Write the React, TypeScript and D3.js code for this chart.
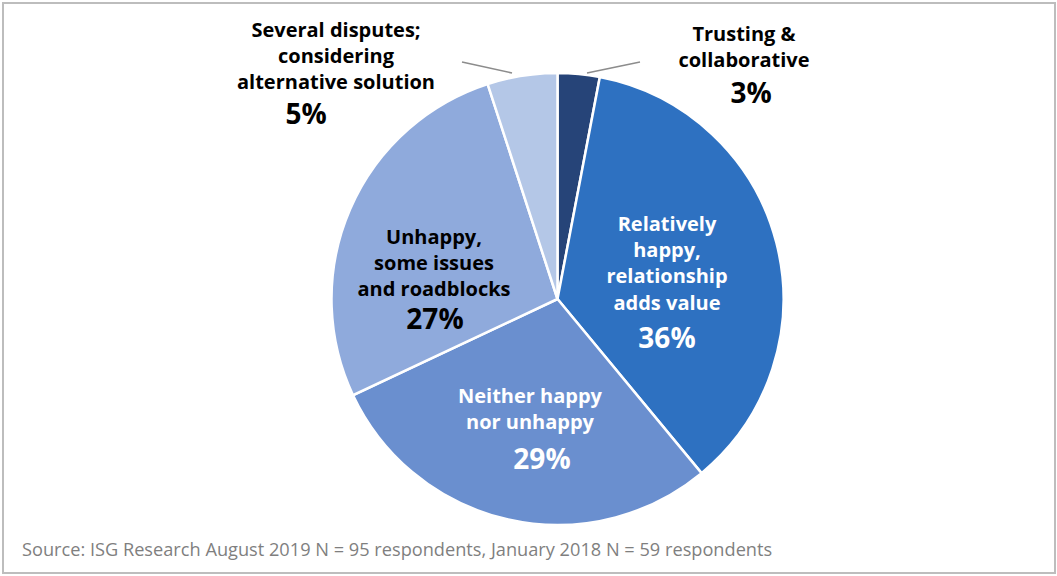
import React from "react";
import * as d3 from "d3";

const categories = [
  "Trusting & collaborative",
  "Relatively happy, relationship adds value",
  "Neither happy nor unhappy",
  "Unhappy, some issues and roadblocks",
  "Several disputes; considering alternative solution",
];
const values = [3, 36, 29, 27, 5];
const labelLines = [
  ["Trusting &", "collaborative"],
  ["Relatively", "happy,", "relationship", "adds value"],
  ["Neither happy", "nor unhappy"],
  ["Unhappy,", "some issues", "and roadblocks"],
  ["Several disputes;", "considering", "alternative solution"],
];
const colors = ["#264478", "#2E71C1", "#6A8FCF", "#8FAADC", "#B4C7E7"];
const source =
  "Source: ISG Research August 2019 N = 95 respondents, January 2018 N = 59 respondents";

const W = 1057;
const H = 576;
const cx = 557.5;
const cy = 299;
const R = 226;
const LINE = 26.2;

const labelLayout = [
  { x: 744, y: 41, px: 751, py: 103, fill: "#000", line: [[587, 73], [640, 62]] },
  { x: 667, y: 231, px: 667, py: 348, fill: "#fff" },
  { x: 530, y: 403, px: 542, py: 469, fill: "#fff" },
  { x: 434, y: 244, px: 435, py: 329, fill: "#000" },
  { x: 336, y: 37, px: 306, py: 124, fill: "#000", line: [[512, 73], [462, 62]] },
];

export default function App() {
  const pie = d3
    .pie<number>()
    .sort(null)
    .value((d) => d);
  const arcs = pie(values);
  const arc = d3.arc<d3.PieArcDatum<number>>().innerRadius(0).outerRadius(R);
  const font = "'Open Sans', sans-serif";
  return (
    <div style={{ position: "absolute", left: 0, top: 0 }}>
      <svg width={W} height={H} style={{ display: "block" }}>
        <rect x={0} y={0} width={W} height={H} fill="#fff" />
        <rect x={3} y={3} width={1052} height={570} fill="none" stroke="#bdbdbd" strokeWidth={2} />
        <g transform={`translate(${cx},${cy})`}>
          {arcs.map((a, i) => (
            <path key={categories[i]} d={arc(a) || ""} fill={colors[i]} stroke="#fff" strokeWidth={2.5} />
          ))}
        </g>
        {labelLayout.map((l, i) =>
          l.line ? (
            <line
              key={"ln" + i}
              x1={l.line[0][0]}
              y1={l.line[0][1]}
              x2={l.line[1][0]}
              y2={l.line[1][1]}
              stroke="#8c8c8c"
              strokeWidth={1.5}
            />
          ) : null
        )}
        {labelLayout.map((l, i) => {
          const lines = labelLines[i];
          return (
            <g key={"lb" + i} fontFamily={font} fontWeight={700} fill={l.fill} textAnchor="middle">
              {lines.map((t, j) => (
                <text key={j} x={l.x} y={l.y + j * LINE} fontSize={20}>
                  {t}
                </text>
              ))}
              <text x={l.px} y={l.py} fontSize={28}>
                {values[i]}%
              </text>
            </g>
          );
        })}
        <text x={22} y={556} fontFamily="'Open Sans', sans-serif" fontSize={18.2} fill="#7f7f7f">
          {source}
        </text>
      </svg>
    </div>
  );
}
